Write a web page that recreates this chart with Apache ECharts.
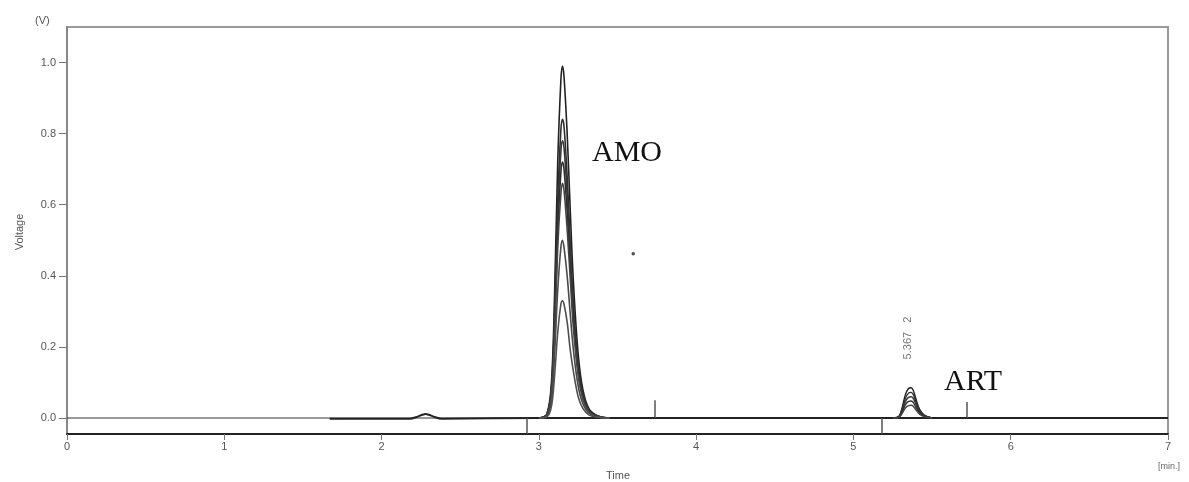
<!DOCTYPE html>
<html><head><meta charset="utf-8">
<script src="https://cdn.jsdelivr.net/npm/echarts@6/dist/echarts.min.js"></script>
<style>html,body{margin:0;padding:0;background:#fff}#c{width:1189px;height:482px}</style>
</head><body><div id="c"></div>
<script>
// ---- data ----
const yTicks = [0, 0.2, 0.4, 0.6, 0.8, 1.0];
const xRange = [0, 7];
const zeroLineTime = [0, 7];
const zeroLineVolt = [0, 0];
const baseTime = [1.67, 2.18, 2.23, 2.26, 2.28, 2.30, 2.33, 2.38, 3.00, 3.45, 5.25, 5.50, 7.00];
const baseVolt = [-0.002, -0.002, 0.004, 0.009, 0.011, 0.009, 0.004, -0.002, 0, 0, 0, 0, 0];
const amoTime = [3.00, 3.05, 3.08, 3.10, 3.12, 3.14, 3.15, 3.16, 3.18, 3.20, 3.22, 3.25, 3.28, 3.32, 3.38, 3.45];
const amo1 = [0, 0.010, 0.10, 0.35, 0.72, 0.95, 0.99, 0.96, 0.80, 0.58, 0.38, 0.18, 0.080, 0.025, 0.005, 0];
const amo2 = [0, 0.010, 0.085, 0.30, 0.61, 0.81, 0.84, 0.82, 0.68, 0.49, 0.32, 0.15, 0.070, 0.020, 0.005, 0];
const amo3 = [0, 0.010, 0.080, 0.28, 0.57, 0.75, 0.78, 0.76, 0.63, 0.46, 0.30, 0.14, 0.065, 0.020, 0.004, 0];
const amo4 = [0, 0.007, 0.070, 0.25, 0.52, 0.69, 0.72, 0.70, 0.58, 0.42, 0.28, 0.13, 0.060, 0.018, 0.004, 0];
const amo5 = [0, 0.007, 0.067, 0.23, 0.48, 0.63, 0.66, 0.64, 0.53, 0.39, 0.25, 0.12, 0.053, 0.017, 0.003, 0];
const amo6 = [0, 0.005, 0.050, 0.18, 0.36, 0.48, 0.50, 0.48, 0.40, 0.29, 0.19, 0.09, 0.040, 0.013, 0.003, 0];
const amo7 = [0, 0.003, 0.033, 0.12, 0.24, 0.32, 0.33, 0.32, 0.27, 0.19, 0.13, 0.06, 0.027, 0.008, 0.002, 0];
const artTime = [5.25, 5.29, 5.31, 5.33, 5.35, 5.367, 5.38, 5.40, 5.42, 5.45, 5.50];
const art1 = [0, 0.005, 0.030, 0.065, 0.083, 0.085, 0.078, 0.050, 0.025, 0.008, 0];
const art2 = [0, 0.004, 0.025, 0.055, 0.070, 0.072, 0.066, 0.042, 0.021, 0.007, 0];
const art3 = [0, 0.004, 0.021, 0.046, 0.058, 0.060, 0.055, 0.035, 0.018, 0.006, 0];
const art4 = [0, 0.003, 0.017, 0.037, 0.047, 0.048, 0.044, 0.028, 0.014, 0.005, 0];
const art5 = [0, 0.002, 0.013, 0.028, 0.035, 0.036, 0.033, 0.021, 0.011, 0.004, 0];
const markerTime = [2.92, 3.74, 5.18, 5.72];
const markerFrom = [-0.045, 0, -0.045, 0];
const markerTo = [0, 0.05, 0, 0.045];
const spotTime = [3.60];
const spotVolt = [0.462];
const peakLabels = ['AMO', 'ART'];
const retentionLabel = '5.367   2';

// ---- build chart ----
const zip = (a, b) => a.map((v, i) => [v, b[i]]);
const amoTraces = [amo1, amo2, amo3, amo4, amo5, amo6, amo7];
const artTraces = [art1, art2, art3, art4, art5];
const traceColors = ['#222', '#2e2e2e', '#383838', '#2e2e2e', '#444', '#4a4a4a', '#505050'];

const series = [];
series.push({type: 'line', data: zip(zeroLineTime, zeroLineVolt), symbol: 'none', silent: true,
  lineStyle: {color: '#333', width: 1}, z: 2});
series.push({type: 'line', data: zip(baseTime, baseVolt), symbol: 'none', smooth: 0.3, silent: true,
  lineStyle: {color: '#222', width: 2}, z: 3});
amoTraces.forEach((t, i) => series.push({type: 'line', data: zip(amoTime, t), symbol: 'none', smooth: 0.35,
  silent: true, lineStyle: {color: traceColors[i], width: 1.6}, z: 4}));
artTraces.forEach((t, i) => series.push({type: 'line', data: zip(artTime, t), symbol: 'none', smooth: 0.35,
  silent: true, lineStyle: {color: traceColors[i], width: 1.4}, z: 4}));
series.push({type: 'line', data: [], symbol: 'none', silent: true,
  markLine: {silent: true, symbol: ['none', 'none'], label: {show: false},
    lineStyle: {color: '#555', width: 1.5, type: 'solid'},
    data: markerTime.map((t, i) => [{coord: [t, markerFrom[i]]}, {coord: [t, markerTo[i]]}])}});
series.push({type: 'scatter', data: zip(spotTime, spotVolt), symbolSize: 3.5, silent: true,
  itemStyle: {color: '#222'}});

const chart = echarts.init(document.getElementById('c'), null, {renderer: 'canvas'});
const labelFont = {fontFamily: 'Liberation Sans, Arial, sans-serif', fontSize: 11, color: '#555'};
chart.setOption({
  animation: false,
  backgroundColor: '#fff',
  grid: {left: 67, right: 21, top: 27, bottom: 48, show: true, borderColor: '#9a9a9a', borderWidth: 2},
  xAxis: {type: 'value', min: xRange[0], max: xRange[1], interval: 1,
    axisLine: {show: true, onZero: false, lineStyle: {color: '#222', width: 2}},
    axisTick: {show: true, length: 6, lineStyle: {color: '#777'}},
    axisLabel: Object.assign({margin: 7}, labelFont),
    splitLine: {show: false}},
  yAxis: {type: 'value', min: -0.045, max: 1.1,
    axisLine: {show: true, onZero: false, lineStyle: {color: '#888', width: 2}},
    axisTick: {show: true, length: 8, customValues: yTicks, lineStyle: {color: '#777'}},
    axisLabel: Object.assign({margin: 11, customValues: yTicks, formatter: v => v.toFixed(1)}, labelFont),
    splitLine: {show: false}},
  series: series,
  graphic: [
    {type: 'text', left: 35, top: 15, style: {text: '(V)', font: '11px Liberation Sans', fill: '#555'}},
    {type: 'text', x: 20, y: 232, rotation: Math.PI / 2, style: {text: 'Voltage', font: '11px Liberation Sans', fill: '#555', align: 'center', verticalAlign: 'middle'}},
    {type: 'text', x: 618, y: 476, style: {text: 'Time', font: '11px Liberation Sans', fill: '#555', align: 'center', verticalAlign: 'middle'}},
    {type: 'text', x: 1169, y: 467, style: {text: '[min.]', font: '9px Liberation Sans', fill: '#666', align: 'center', verticalAlign: 'middle'}},
    {type: 'text', x: 592, y: 153, style: {text: peakLabels[0], font: '30px Liberation Serif', fill: '#111', verticalAlign: 'middle'}},
    {type: 'text', x: 944, y: 382, style: {text: peakLabels[1], font: '30px Liberation Serif', fill: '#111', verticalAlign: 'middle'}},
    {type: 'text', x: 908, y: 338, rotation: Math.PI / 2, style: {text: retentionLabel, font: '11px Liberation Sans', fill: '#777', align: 'center', verticalAlign: 'middle'}}
  ]
});
</script></body></html>
